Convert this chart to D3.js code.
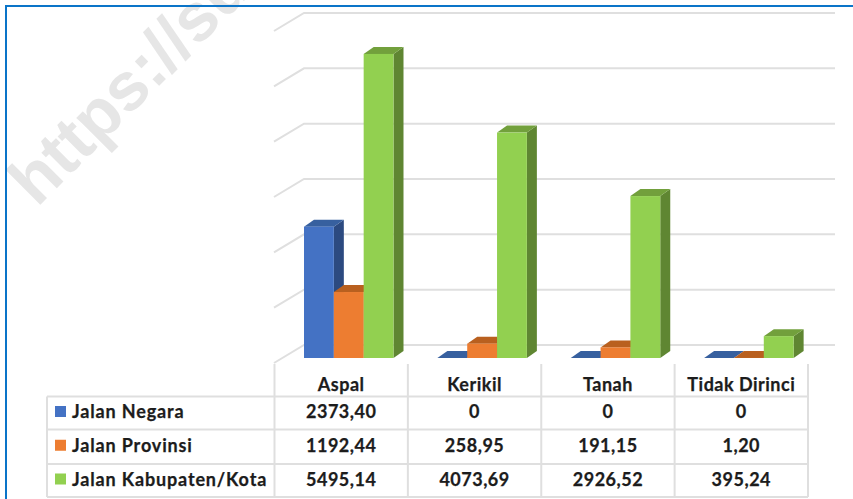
<!DOCTYPE html>
<html>
<head>
<meta charset="utf-8">
<script src="https://cdn.jsdelivr.net/npm/d3@7"></script>
<style>
  html, body { margin: 0; padding: 0; background: white; overflow: hidden; }
  .cell { font-family: Lato, "Open Sans", sans-serif; font-weight: 700; fill: #1c1c1c; stroke: #1c1c1c; stroke-width: 0.25px; font-size: 18px; letter-spacing: 0.5px; }
  .name { letter-spacing: 0.85px; }
</style>
</head>
<body>
<div id="visualization"></div>
<script>
let w = 853;
let h = 499;

let categories = ["Aspal", "Kerikil", "Tanah", "Tidak Dirinci"];
let seriesNames = ["Jalan Negara", "Jalan Provinsi", "Jalan Kabupaten/Kota"];
let jalanNegara = [2373.40, 0, 0, 0];
let jalanProvinsi = [1192.44, 258.95, 191.15, 1.20];
let jalanKabupaten = [5495.14, 4073.69, 2926.52, 395.24];
let gridTicks = [0, 1000, 2000, 3000, 4000, 5000, 6000];

let seriesValues = [jalanNegara, jalanProvinsi, jalanKabupaten];
let frontColors = ["#4472c4", "#ed7d31", "#92d050"];
let topColors = ["#37609f", "#b9601f", "#72a03c"];
let sideColors = ["#2c4a80", "#a8561c", "#5f8632"];

let viz = d3.select("#visualization")
  .append("svg")
  .style("display", "block")
  .style("background-color", "white")
  .attr("width", w)
  .attr("height", h)
;

// watermark
viz.append("text")
  .attr("transform", "translate(37,208) rotate(-45)")
  .style("font-family", "'Liberation Sans', sans-serif")
  .style("font-weight", "700")
  .style("font-size", "68px")
  .style("fill", "#e6e6e6")
  .text("https://su")
;

// blue frame of the screenshot, open on the right
viz.append("path")
  .attr("d", "M6,499 V6 H853")
  .attr("fill", "none")
  .attr("stroke", "#0a74c8")
  .attr("stroke-width", 2)
;

// scales
let xScale = d3.scaleBand().domain(categories).range([274.5, 808]);
let serieScale = d3.scaleBand().domain(d3.range(3)).range([29.5, 119]);
let yScale = d3.scaleLinear().domain([0, 6000]).range([358, 26]);

// depth of the back wall and of the bars
let wallY = 13;
let barDx = 10, barDy = 7;

// gridlines on the back wall + side wall
let grid = viz.append("g").attr("fill", "none").attr("stroke", "#dfdfdf").attr("stroke-width", 2);
gridTicks.forEach(function(t){
  let y = yScale(t) - wallY;
  grid.append("path")
    .attr("d", "M274," + (y + 18) + " L304," + y + " H835");
});

// bars
categories.forEach(function(c, i){
  let g = viz.append("g");
  seriesValues.forEach(function(values, s){
    let x0 = xScale(c) + serieScale(s);
    let x1 = x0 + serieScale.bandwidth();
    let y0 = yScale(0);
    let y1 = yScale(values[i]);
    // side
    g.append("path")
      .attr("d", "M" + x1 + "," + y0 + " L" + (x1 + barDx) + "," + (y0 - barDy)
        + " V" + (y1 - barDy) + " L" + x1 + "," + y1 + "Z")
      .attr("fill", sideColors[s]);
    // top
    g.append("path")
      .attr("d", "M" + x0 + "," + y1 + " L" + (x0 + barDx) + "," + (y1 - barDy)
        + " H" + (x1 + barDx) + " L" + x1 + "," + y1 + "Z")
      .attr("fill", topColors[s]);
    // front
    g.append("rect")
      .attr("x", x0)
      .attr("y", y1)
      .attr("width", x1 - x0)
      .attr("height", y0 - y1)
      .attr("fill", frontColors[s]);
  });
});

// data table
let tableLeft = 47;
let colEdges = categories.map(c => xScale(c)).concat([808]);
let rowEdges = [396.5, 429.5, 464, 497];
let table = viz.append("g").attr("stroke", "#dfdfdf").attr("stroke-width", 2).attr("fill", "none");
rowEdges.forEach(function(y){
  table.append("line").attr("x1", tableLeft).attr("x2", 808).attr("y1", y).attr("y2", y);
});
table.append("line").attr("x1", tableLeft).attr("x2", tableLeft).attr("y1", rowEdges[0]).attr("y2", rowEdges[3]);
colEdges.forEach(function(x){
  table.append("line").attr("x1", x).attr("x2", x).attr("y1", 364).attr("y2", rowEdges[3]);
});

// header
viz.selectAll(".head").data(categories).enter()
  .append("text")
  .attr("class", "head cell")
  .attr("x", d => xScale(d) + xScale.bandwidth() / 2)
  .attr("y", 391)
  .attr("text-anchor", "middle")
  .text(d => d)
;

function fmt(v){
  return v === 0 ? "0" : v.toFixed(2).replace(".", ",");
}

// rows
seriesNames.forEach(function(name, s){
  let mid = (rowEdges[s] + rowEdges[s + 1]) / 2;
  viz.append("rect")
    .attr("x", 55).attr("y", mid - 7)
    .attr("width", 11).attr("height", 11)
    .attr("fill", frontColors[s]);
  viz.append("text")
    .attr("class", "cell name")
    .attr("x", 72).attr("y", mid + 5)
    .text(name);
  categories.forEach(function(c, i){
    viz.append("text")
      .attr("class", "cell")
      .attr("x", xScale(c) + xScale.bandwidth() / 2)
      .attr("y", mid + 5)
      .attr("text-anchor", "middle")
      .text(fmt(seriesValues[s][i]));
  });
});
</script>
</body>
</html>
